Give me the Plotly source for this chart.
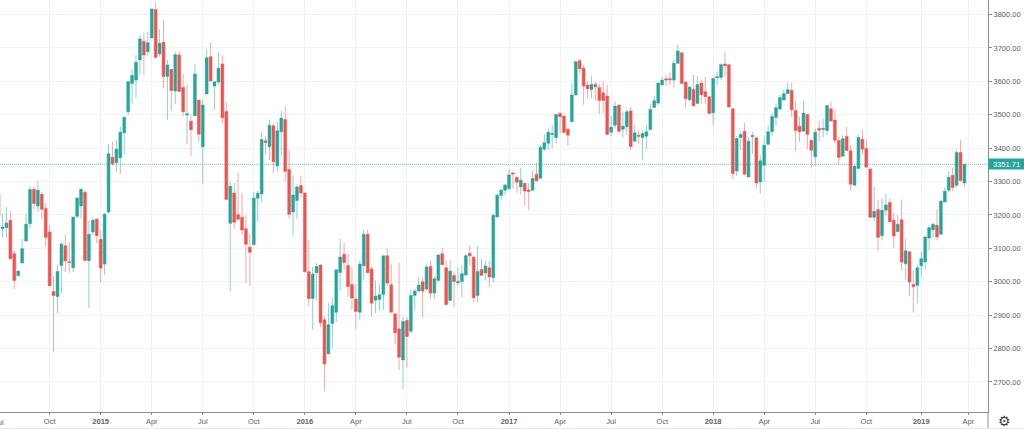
import pandas as pd
import plotly.graph_objects as go

# weekly bars, first one just off the left edge
dates = pd.date_range("2014-07-07", periods=247, freq="7D")

opens = [
    3264, 3159, 3162, 3184, 3084, 3018, 3056, 3122, 3174, 3277, 3227, 3262, 3219,
    3149, 2971, 2956, 3049, 3108, 3060, 3042, 3196, 3227, 3268, 3063, 3149, 3188,
    3127, 3053, 3209, 3373, 3356, 3371, 3446, 3509, 3594, 3604, 3664, 3720, 3689,
    3730, 3815, 3682, 3717, 3615, 3636, 3571, 3679, 3582, 3499, 3481, 3497, 3544,
    3404, 3562, 3674, 3586, 3598, 3652, 3510, 3175, 3266, 3201, 3193, 3159, 3103,
    3111, 3250, 3263, 3422, 3404, 3467, 3347, 3449, 3486, 3336, 3209, 3243, 3288,
    3266, 3030, 2950, 3027, 3050, 2886, 2784, 2875, 2909, 3028, 3082, 3049, 2992,
    2948, 2909, 3048, 3142, 3038, 2945, 2947, 2962, 3078, 2991, 2904, 2859, 2766,
    2884, 2852, 2959, 2972, 3000, 2978, 3046, 2966, 3004, 3084, 3042, 2944, 3019,
    2997, 3001, 3020, 3085, 3074, 2959, 3037, 3026, 3042, 3012, 3194, 3258, 3274,
    3279, 3326, 3313, 3284, 3295, 3275, 3274, 3322, 3310, 3397, 3415, 3441, 3432,
    3504, 3496, 3457, 3479, 3559, 3662, 3640, 3589, 3576, 3591, 3582, 3566, 3556,
    3448, 3469, 3529, 3457, 3464, 3511, 3421, 3439, 3432, 3436, 3456, 3522, 3535,
    3589, 3608, 3608, 3604, 3654, 3686, 3598, 3545, 3576, 3534, 3595, 3569, 3554,
    3506, 3611, 3612, 3652, 3650, 3518, 3332, 3432, 3451, 3314, 3434, 3431, 3299,
    3349, 3412, 3449, 3492, 3517, 3544, 3564, 3573, 3513, 3466, 3451, 3501, 3423,
    3374, 3459, 3456, 3453, 3518, 3484, 3423, 3376, 3435, 3392, 3289, 3339, 3427,
    3399, 3338, 3193, 3216, 3138, 3214, 3237, 3184, 3150, 3186, 3054, 3090, 2992,
    2989, 3048, 3059, 3131, 3156, 3169, 3142, 3239, 3274, 3319, 3289, 3387, 3296,
]
highs = [
    3264, 3204, 3224, 3212, 3094, 3032, 3129, 3204, 3286, 3284, 3302, 3269, 3236,
    3169, 3018, 3051, 3119, 3142, 3119, 3194, 3251, 3279, 3274, 3184, 3192, 3188,
    3154, 3208, 3412, 3419, 3424, 3464, 3496, 3599, 3636, 3679, 3739, 3746, 3749,
    3817, 3838, 3757, 3784, 3664, 3636, 3689, 3691, 3622, 3589, 3499, 3652, 3544,
    3544, 3696, 3716, 3599, 3687, 3679, 3538, 3301, 3296, 3327, 3266, 3199, 3144,
    3269, 3272, 3449, 3436, 3486, 3474, 3479, 3512, 3524, 3396, 3317, 3292, 3316,
    3266, 3124, 3044, 3056, 3052, 2896, 2936, 2952, 3036, 3129, 3116, 3084, 3044,
    2994, 3064, 3156, 3156, 3046, 3004, 2994, 3078, 3099, 3052, 2904, 3057, 2896,
    2894, 2976, 2979, 3014, 3014, 3052, 3064, 3016, 3082, 3102, 3062, 3064, 3029,
    3044, 3049, 3084, 3109, 3074, 3107, 3069, 3064, 3064, 3204, 3264, 3278, 3292,
    3336, 3329, 3314, 3342, 3295, 3295, 3334, 3356, 3409, 3442, 3458, 3471, 3501,
    3509, 3496, 3461, 3594, 3661, 3666, 3649, 3599, 3616, 3599, 3592, 3599, 3589,
    3496, 3541, 3529, 3509, 3516, 3524, 3469, 3451, 3454, 3469, 3532, 3557, 3597,
    3614, 3619, 3626, 3666, 3710, 3686, 3598, 3584, 3619, 3614, 3604, 3614, 3556,
    3609, 3629, 3654, 3687, 3650, 3518, 3436, 3449, 3476, 3434, 3449, 3431, 3379,
    3434, 3469, 3506, 3534, 3559, 3576, 3597, 3596, 3542, 3494, 3542, 3501, 3429,
    3459, 3482, 3489, 3530, 3539, 3516, 3436, 3439, 3464, 3409, 3349, 3439, 3454,
    3426, 3338, 3284, 3246, 3249, 3264, 3249, 3207, 3199, 3246, 3129, 3090, 3034,
    3051, 3089, 3139, 3169, 3176, 3217, 3244, 3282, 3331, 3342, 3394, 3424, 3352,
]
lows = [
    3194, 3132, 3132, 3066, 2978, 3018, 3056, 3122, 3159, 3216, 3209, 3189, 3104,
    2988, 2789, 2906, 2964, 3029, 3027, 3029, 3189, 3189, 3064, 2922, 3139, 3116,
    2999, 3021, 3204, 3347, 3328, 3322, 3382, 3499, 3532, 3552, 3619, 3618, 3677,
    3730, 3669, 3674, 3579, 3485, 3512, 3532, 3570, 3496, 3411, 3376, 3497, 3419,
    3293, 3562, 3601, 3514, 3589, 3474, 3246, 2972, 3159, 3187, 3141, 2996, 2987,
    3111, 3179, 3239, 3382, 3364, 3326, 3329, 3376, 3299, 3189, 3138, 3187, 3252,
    3028, 2928, 2856, 2944, 2864, 2672, 2784, 2801, 2879, 2972, 3034, 2954, 2916,
    2859, 2886, 3006, 3027, 2894, 2906, 2914, 2916, 2986, 2909, 2814, 2736, 2678,
    2744, 2844, 2914, 2972, 2892, 2974, 2950, 2950, 3001, 3051, 2929, 2944, 2924,
    2989, 2954, 3020, 3049, 2939, 2939, 3019, 3004, 2984, 2998, 3194, 3246, 3260,
    3272, 3279, 3266, 3262, 3230, 3214, 3274, 3302, 3308, 3391, 3394, 3399, 3414,
    3444, 3446, 3407, 3479, 3559, 3624, 3530, 3549, 3549, 3542, 3502, 3504, 3441,
    3436, 3459, 3444, 3432, 3439, 3394, 3421, 3414, 3364, 3397, 3456, 3522, 3529,
    3589, 3586, 3589, 3582, 3654, 3594, 3521, 3541, 3524, 3534, 3532, 3532, 3502,
    3469, 3589, 3604, 3614, 3523, 3307, 3317, 3394, 3322, 3314, 3384, 3279, 3264,
    3299, 3409, 3436, 3467, 3514, 3542, 3564, 3494, 3392, 3419, 3451, 3396, 3342,
    3346, 3419, 3432, 3439, 3481, 3414, 3349, 3376, 3393, 3274, 3289, 3339, 3381,
    3343, 3193, 3182, 3092, 3124, 3196, 3178, 3101, 3150, 3034, 3007, 2957, 2908,
    2936, 3016, 3036, 3094, 3132, 3124, 3142, 3238, 3269, 3272, 3284, 3299, 3284,
]
closes = [
    3194, 3164, 3176, 3069, 3004, 3032, 3099, 3172, 3276, 3234, 3274, 3217, 3133,
    2988, 2959, 3031, 3113, 3063, 3058, 3194, 3251, 3277, 3064, 3142, 3184, 3138,
    3041, 3202, 3383, 3353, 3397, 3448, 3492, 3599, 3618, 3657, 3727, 3679, 3716,
    3817, 3672, 3714, 3615, 3649, 3573, 3680, 3570, 3509, 3503, 3455, 3622, 3442,
    3529, 3671, 3601, 3599, 3639, 3491, 3246, 3286, 3178, 3187, 3155, 3112, 3088,
    3250, 3265, 3426, 3417, 3469, 3359, 3452, 3490, 3331, 3202, 3260, 3284, 3266,
    3030, 2950, 3023, 3046, 2877, 2754, 2871, 2928, 3036, 3074, 3058, 2986, 2951,
    2911, 3053, 3142, 3027, 2936, 2957, 2961, 3078, 2996, 2909, 2847, 2774, 2881,
    2836, 2959, 2972, 2990, 2972, 3044, 2966, 3009, 3080, 3051, 2932, 3032, 3001,
    3001, 3024, 3078, 3078, 2952, 3031, 3019, 3047, 3014, 3199, 3259, 3274, 3290,
    3320, 3323, 3298, 3304, 3272, 3270, 3309, 3302, 3403, 3416, 3448, 3444, 3501,
    3494, 3447, 3439, 3559, 3659, 3638, 3586, 3578, 3591, 3584, 3543, 3543, 3441,
    3463, 3526, 3451, 3466, 3509, 3405, 3446, 3436, 3444, 3449, 3516, 3542, 3595,
    3604, 3605, 3605, 3654, 3691, 3594, 3548, 3583, 3527, 3591, 3560, 3554, 3504,
    3609, 3614, 3650, 3647, 3523, 3324, 3429, 3441, 3322, 3421, 3438, 3296, 3362,
    3409, 3449, 3495, 3521, 3552, 3563, 3575, 3515, 3453, 3449, 3505, 3441, 3394,
    3448, 3454, 3459, 3528, 3481, 3424, 3372, 3428, 3393, 3292, 3346, 3432, 3397,
    3343, 3193, 3211, 3133, 3214, 3230, 3180, 3137, 3172, 3059, 3093, 2999, 2985,
    3042, 3069, 3134, 3162, 3172, 3134, 3241, 3271, 3313, 3282, 3387, 3303, 3351.71,
]

x_tick_dates = [
    "2014-10-06", "2015-01-05", "2015-04-06", "2015-07-06", "2015-10-05",
    "2016-01-04", "2016-04-04", "2016-07-04", "2016-10-03",
    "2017-01-02", "2017-04-03", "2017-07-03", "2017-10-02",
    "2018-01-01", "2018-04-02", "2018-07-02", "2018-10-01",
    "2019-01-07", "2019-04-01",
]
x_tick_labels = [
    "Oct", "<b>2015</b>", "Apr", "Jul", "Oct",
    "<b>2016</b>", "Apr", "Jul", "Oct",
    "<b>2017</b>", "Apr", "Jul", "Oct",
    "<b>2018</b>", "Apr", "Jul", "Oct",
    "<b>2019</b>", "Apr",
]
y_ticks = [2700, 2800, 2900, 3000, 3100, 3200, 3300, 3400, 3500, 3600, 3700, 3800]

UP = "#26a69a"
DOWN = "#ef5350"
GRID = "#eef3f6"
AXIS = "#8a8e94"
TEXT = "#5d606b"
FONT = "Liberation Sans"
FONT_SIZE = 7.5

fig = go.Figure(go.Candlestick(
    x=dates, open=opens, high=highs, low=lows, close=closes,
    increasing=dict(line=dict(color="rgba(38,166,154,0.5)", width=1), fillcolor=UP),
    decreasing=dict(line=dict(color="rgba(239,83,80,0.5)", width=1), fillcolor=DOWN),
    whiskerwidth=0,
    hoverinfo="skip",
    showlegend=False,
))

fig.update_layout(
    width=1024, height=429,
    margin=dict(l=0, r=36, t=0, b=17),
    paper_bgcolor="white", plot_bgcolor="white",
    boxgap=0.28, boxgroupgap=0,
    font=dict(family=FONT, size=FONT_SIZE, color=TEXT),
)
fig.update_xaxes(
    range=["2014-07-09 12:00", "2019-05-06"],
    rangeslider_visible=False,
    tickmode="array", tickvals=x_tick_dates, ticktext=x_tick_labels,
    showgrid=True, gridcolor=GRID, gridwidth=1, zeroline=False,
    showline=True, linecolor=AXIS, linewidth=1,
    ticks="outside", ticklen=2, tickcolor=AXIS,
    tickfont=dict(family=FONT, size=FONT_SIZE, color=TEXT),
)
fig.update_yaxes(
    range=[2610, 3843.7], side="right",
    tickmode="array", tickvals=y_ticks, tickformat=".2f",
    showgrid=True, gridcolor=GRID, gridwidth=1, zeroline=False,
    showline=True, linecolor=AXIS, linewidth=1,
    ticks="outside", ticklen=3, tickcolor=AXIS,
    tickfont=dict(family=FONT, size=FONT_SIZE, color=TEXT),
)

# last price line and its tag on the axis
fig.add_hline(y=closes[-1], line=dict(color=UP, width=1, dash="1px,1px"), opacity=0.6)
fig.add_annotation(
    xref="paper", x=1, yref="y", y=closes[-1], xanchor="left", yanchor="middle",
    text=f"{closes[-1]:.2f}", showarrow=False,
    font=dict(family=FONT, size=FONT_SIZE, color="white"),
    bgcolor=UP, borderpad=1, width=33, height=8, align="center",
)

# bottom corner: axis line carries on past the time scale, gear button
fig.add_shape(type="line", xref="paper", yref="paper", x0=1, x1=1, y0=0, y1=-0.04,
              line=dict(color=AXIS, width=1))
fig.add_shape(type="line", xref="paper", yref="paper", x0=0, x1=1.037, y0=-0.04, y1=-0.04,
              line=dict(color="#e4e6ea", width=1))
fig.add_annotation(
    xref="paper", yref="paper", x=1.0172, y=-0.022, xanchor="center", yanchor="middle",
    text="\u2699", showarrow=False,
    font=dict(family="DejaVu Sans", size=14, color="#3a3d45"),
)
# July label sits half off the page
fig.add_annotation(
    xref="paper", yref="paper", x=-0.0015, y=0, xanchor="center", yanchor="top", yshift=-4,
    text="Jul", showarrow=False, font=dict(family=FONT, size=FONT_SIZE, color=TEXT),
)

fig.write_html(
    "out.html",
    config={"displayModeBar": False},
    post_script="document.body.style.margin='0';document.body.style.overflow='hidden';",
)
